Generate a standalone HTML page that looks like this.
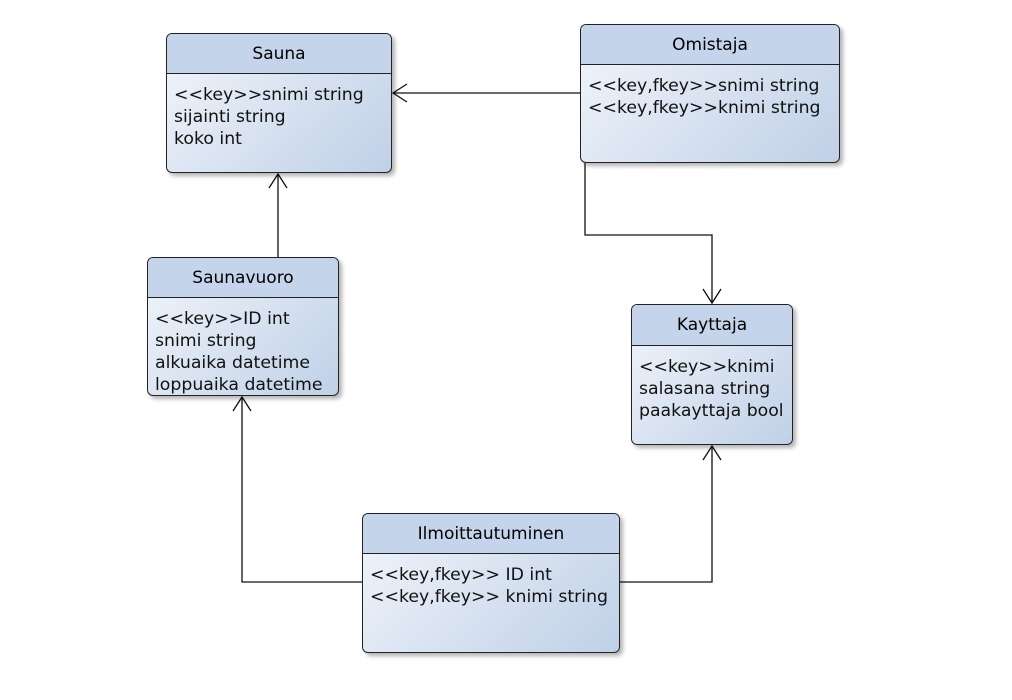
<!DOCTYPE html>
<html><head><style>
body{margin:0;width:1012px;height:700px;background:#fff;position:relative;overflow:hidden;font-family:"DejaVu Sans",sans-serif;}
.b{position:absolute;border:1.3px solid #222;border-radius:6px;overflow:hidden;box-shadow:3px 3px 4px rgba(0,0,0,.3);background:linear-gradient(135deg,#f3f6fb,#bfd0e7);box-sizing:border-box}
.h{background:#c3d4eb;border-bottom:1.3px solid #222;text-align:center;font-size:17px;box-sizing:border-box;display:flex;align-items:center;justify-content:center}
.c{padding:10px 0 0 7px;font-size:17.3px;line-height:22px;white-space:nowrap;color:#111}
svg{position:absolute;left:0;top:0}
</style></head><body>
<svg width="1012" height="700" fill="none" stroke="#111" stroke-width="1.3">
<path d="M580 93H393"/><path d="M407 84L393 93L407 102"/>
<path d="M585 163V235H712V303"/><path d="M703 289L712 303L721 289"/>
<path d="M278 257V174"/><path d="M269 188L278 174L287 188"/>
<path d="M362 582H242V397"/><path d="M233 411L242 397L251 411"/>
<path d="M620 582H712V446"/><path d="M703 460L712 446L721 460"/>
</svg>
<div class="b" style="left:166px;top:33px;width:226px;height:140px"><div class="h" style="height:40px">Sauna</div><div class="c">&lt;&lt;key&gt;&gt;snimi string<br>sijainti string<br>koko int</div></div>
<div class="b" style="left:580px;top:24px;width:260px;height:139px"><div class="h" style="height:40px">Omistaja</div><div class="c">&lt;&lt;key,fkey&gt;&gt;snimi string<br>&lt;&lt;key,fkey&gt;&gt;knimi string</div></div>
<div class="b" style="left:147px;top:257px;width:192px;height:139px"><div class="h" style="height:40px">Saunavuoro</div><div class="c">&lt;&lt;key&gt;&gt;ID int<br>snimi string<br>alkuaika datetime<br>loppuaika datetime</div></div>
<div class="b" style="left:631px;top:304px;width:162px;height:141px"><div class="h" style="height:41px">Kayttaja</div><div class="c">&lt;&lt;key&gt;&gt;knimi<br>salasana string<br>paakayttaja bool</div></div>
<div class="b" style="left:362px;top:513px;width:258px;height:140px"><div class="h" style="height:40px">Ilmoittautuminen</div><div class="c">&lt;&lt;key,fkey&gt;&gt; ID int<br>&lt;&lt;key,fkey&gt;&gt; knimi string</div></div>
</body></html>
